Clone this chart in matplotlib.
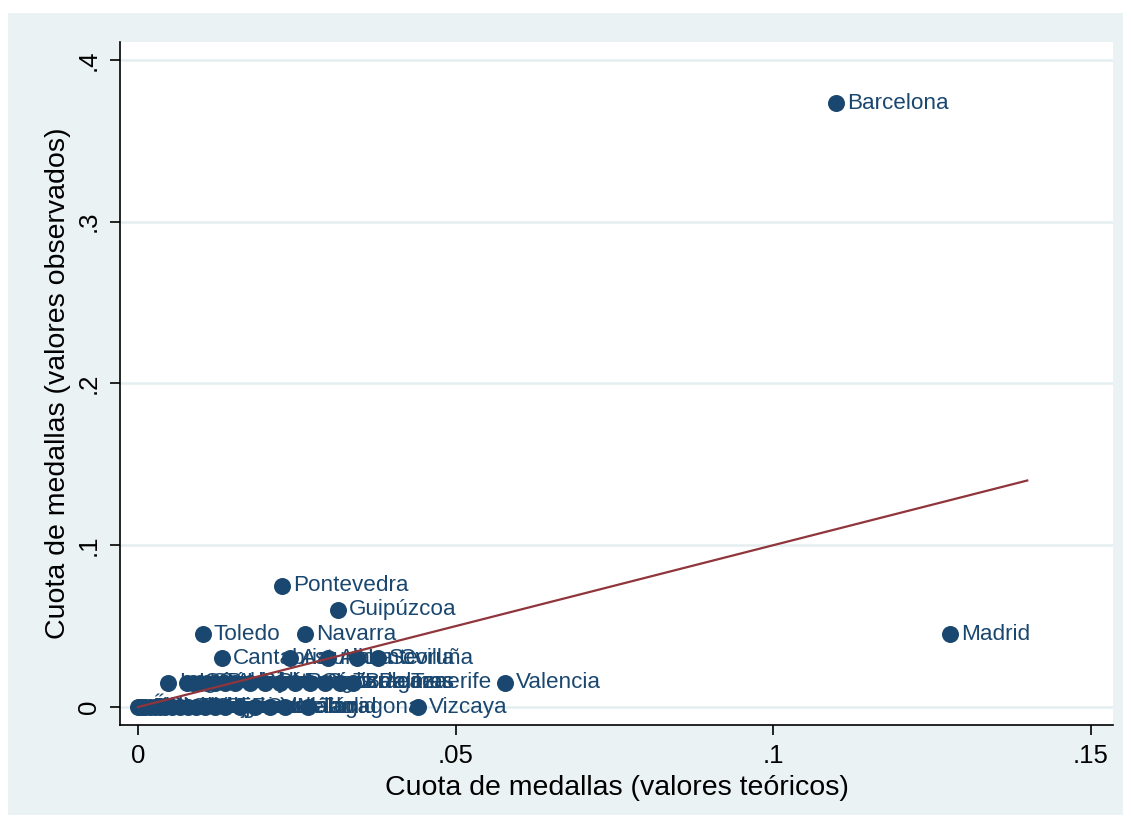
import matplotlib
matplotlib.use('Agg')
import matplotlib.pyplot as plt

plt.rcParams['font.family'] = ['Liberation Sans', 'DejaVu Sans']

# provincias: cuota teórica (x) y cuota observada (y)
provincias = [
    'Barcelona', 'Madrid', 'Pontevedra', 'Guipúzcoa', 'Toledo', 'Navarra',
    'Cantabria', 'Asturias', 'Alicante', 'La Coruña', 'Sevilla',
    'Valencia', 'Lugo', 'Huesca', 'Cáceres', 'Granada', 'Córdoba', 'Badajoz',
    'Almería', 'Lleida', 'Santa Cruz de Tenerife', 'Girona', 'Murcia',
    'Burgos', 'Cádiz', 'Las Palmas', 'Zaragoza', 'Baleares',
    'Álava', 'Albacete', 'Ávila', 'Cuenca', 'Guadalajara', 'Huelva', 'Jaén',
    'La Rioja', 'León', 'Ourense', 'Palencia', 'Salamanca', 'Segovia',
    'Soria', 'Teruel', 'Zamora', 'Castellón', 'Valladolid', 'Málaga',
    'Tarragona', 'Vizcaya',
]
teorico = [
    0.1099, 0.1279, 0.0227, 0.0315, 0.0102, 0.0263,
    0.0132, 0.0239, 0.0299, 0.0345, 0.0378,
    0.0578, 0.0047, 0.0077, 0.0087, 0.0098, 0.0109, 0.0121,
    0.0137, 0.0153, 0.0176, 0.0200, 0.0224,
    0.0247, 0.0271, 0.0294, 0.0318, 0.0339,
    0.0000, 0.0003, 0.0006, 0.0011, 0.0019, 0.0027, 0.0035,
    0.0043, 0.0054, 0.0066, 0.0079, 0.0091, 0.0106,
    0.0121, 0.0137, 0.0161, 0.0184, 0.0208, 0.0232,
    0.0268, 0.0441,
]
observado = [
    0.373, 0.045, 0.075, 0.060, 0.045, 0.045,
    0.030, 0.030, 0.030, 0.030, 0.030,
    0.015, 0.015, 0.015, 0.015, 0.015, 0.015, 0.015,
    0.015, 0.015, 0.015, 0.015, 0.015,
    0.015, 0.015, 0.015, 0.015, 0.015,
    0, 0, 0, 0, 0, 0, 0,
    0, 0, 0, 0, 0, 0,
    0, 0, 0, 0, 0, 0,
    0, 0,
]
linea_x = [0, 0.14]

navy = '#1a476f'
fondo = '#eaf2f3'

fig = plt.figure(figsize=(11.31, 8.27), dpi=100)

# fondo del gráfico (estilo Stata)
bg = fig.add_axes([8 / 1131, 1 - 815 / 827, 1115 / 1131, 802 / 827])
bg.set_facecolor(fondo)
bg.set_xticks([])
bg.set_yticks([])
for s in bg.spines.values():
    s.set_visible(False)
bg.set_zorder(0)

ax = fig.add_axes([120 / 1131, 1 - 725 / 827, 993 / 1131, 683 / 827])
ax.set_zorder(1)
ax.set_facecolor('white')

for v in [0, 0.1, 0.2, 0.3, 0.4]:
    ax.axhline(v, color='#e4eef0', lw=1.8, zorder=0)

ax.scatter(teorico, observado, s=150, color=navy, zorder=3, linewidths=0)
for nombre, x, y in zip(provincias, teorico, observado):
    ax.annotate(nombre, (x, y), xytext=(8, 0), textcoords='offset points',
                va='center', ha='left', fontsize=16.2, color=navy, zorder=4)

ax.plot(linea_x, linea_x, color='#90353b', lw=1.6, zorder=5)

ax.set_xlim(-0.00283, 0.1535)
ax.set_ylim(-0.0111, 0.411)
ax.set_xticks([0, 0.05, 0.1, 0.15])
ax.set_xticklabels(['0', '.05', '.1', '.15'])
ax.set_yticks([0, 0.1, 0.2, 0.3, 0.4])
ax.set_yticklabels(['0', '.1', '.2', '.3', '.4'], rotation=90, va='center')
ax.tick_params(axis='both', length=7, width=1.2, labelsize=18.5, color='black', pad=7)

for s in ['top', 'right']:
    ax.spines[s].set_visible(False)
for s in ['left', 'bottom']:
    ax.spines[s].set_linewidth(1.2)

ax.set_xlabel('Cuota de medallas (valores teóricos)', fontsize=20.5, labelpad=5)
ax.set_ylabel('Cuota de medallas (valores observados)', fontsize=20.5, labelpad=4)

fig.savefig('out.png', dpi=100, facecolor='white')
